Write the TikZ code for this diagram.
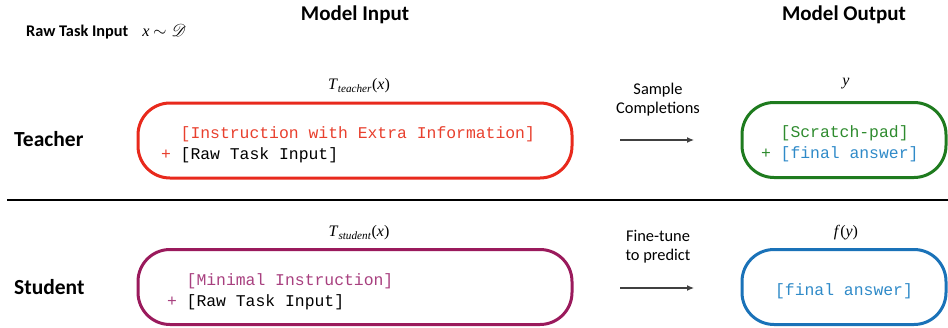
\documentclass[tikz,border=0pt]{standalone}
\usepackage{fontspec}
\usepackage{mathrsfs}
\setmainfont{Carlito}
\newfontfamily\codefont{Liberation Mono}
\newfontfamily\timesfont{Liberation Serif}
\usetikzlibrary{arrows.meta}

\definecolor{teachred}{HTML}{E8291C}
\definecolor{instred}{HTML}{E8402E}
\definecolor{padgreen}{HTML}{1E7B1E}
\definecolor{padtext}{HTML}{2E8B2E}
\definecolor{ansblue}{HTML}{1A72B8}
\definecolor{anstext}{HTML}{2F8AC8}
\definecolor{studpurple}{HTML}{9A1A5C}
\definecolor{mintext}{HTML}{A8407F}

\tikzset{
  title/.style={font=\fontsize{21}{24}\selectfont\bfseries, inner sep=0pt},
  rolelabel/.style={font=\fontsize{21.5}{24}\selectfont\bfseries, anchor=west, inner sep=0pt},
  maplabel/.style={font=\timesfont\fontsize{16}{19}\selectfont, inner sep=0pt},
  steptext/.style={font=\fontsize{16.4}{19}\selectfont, align=center, inner sep=0pt},
  promptbox/.style={draw, line width=3pt, rounded corners=32pt, minimum height=75pt,
    font=\codefont\fontsize{16.4}{21}\selectfont, align=left,
    execute at begin node={\spaceskip=0.6em\relax}},
  flow/.style={-{Latex[length=7pt, width=6pt]}, line width=1.2pt, draw=black!75}
}

\begin{document}
\begin{tikzpicture}[x=1pt, y=-1pt]
            \useasboundingbox (0,0) rectangle (948,327);

            % Headings
            \node[title] (modelin) at (355,15) {Model Input};
            \node[title] (modelout) at (844,15) {Model Output};
            \node[anchor=west, inner sep=0pt, font=\fontsize{16.3}{18}\selectfont] (raw) at (26,32)
                {\textbf{Raw Task Input}\hspace{14pt}{\timesfont\itshape x} $\sim \mathscr{D}$};

            % Teacher row
            \node[rolelabel] (teacher) at (14,139) {Teacher};
            \node[maplabel] (tmap) at (359,86) {\textit{T}\textsubscript{\textit{teacher}}(\textit{x})};
            \node[promptbox, draw=teachred, text width=388pt, inner xsep=23pt] (tbox) at (355,140.5)
                {\rule{0pt}{20pt}\phantom{+ }\textcolor{instred}{[Instruction with Extra Information]}\\
                 \textcolor{instred}{+} [Raw Task Input]};
            \node[steptext] (sample) at (658,100) {Sample\\Completions};
            \coordinate (sfrom) at (620,140);
            \coordinate (sto) at (694,140);
            \node[maplabel] (ymap) at (846,84) {\textit{y}};
            \node[promptbox, draw=padgreen, text width=166pt, inner xsep=19pt] (ybox) at (844,140)
                {\rule{0pt}{20pt}\phantom{+ }\textcolor{padtext}{[Scratch-pad]}\\
                 \textcolor{padtext}{+} \textcolor{anstext}{[final answer]}};

            % Separator
            \coordinate (sepl) at (7,200);
            \coordinate (sepr) at (948,200);

            % Student row
            \node[rolelabel] (student) at (14,287) {Student};
            \node[maplabel] (smap) at (359,233) {\textit{T}\textsubscript{\textit{student}}(\textit{x})};
            \node[promptbox, draw=studpurple, text width=376pt, inner xsep=29pt] (sbox) at (355,287)
                {\rule{0pt}{21pt}\phantom{+ }\textcolor{mintext}{[Minimal Instruction]}\\
                 \textcolor{mintext}{+} [Raw Task Input]};
            \node[steptext] (finetune) at (658,247) {Fine-tune\\to predict};
            \coordinate (ffrom) at (620,288);
            \coordinate (fto) at (694,288);
            \node[maplabel] (fmap) at (846,233) {\textit{f}(\textit{y})};
            \node[promptbox, draw=ansblue, minimum width=204pt] (fbox) at (844,287)
                {\rule{0pt}{20pt}\textcolor{anstext}{[final answer]}};

            % Edges
            \draw[flow] (sfrom) -- (sto);
            \draw[flow] (ffrom) -- (fto);
            \draw[line width=2pt] (sepl) -- (sepr);
        \end{tikzpicture}
\end{document}
